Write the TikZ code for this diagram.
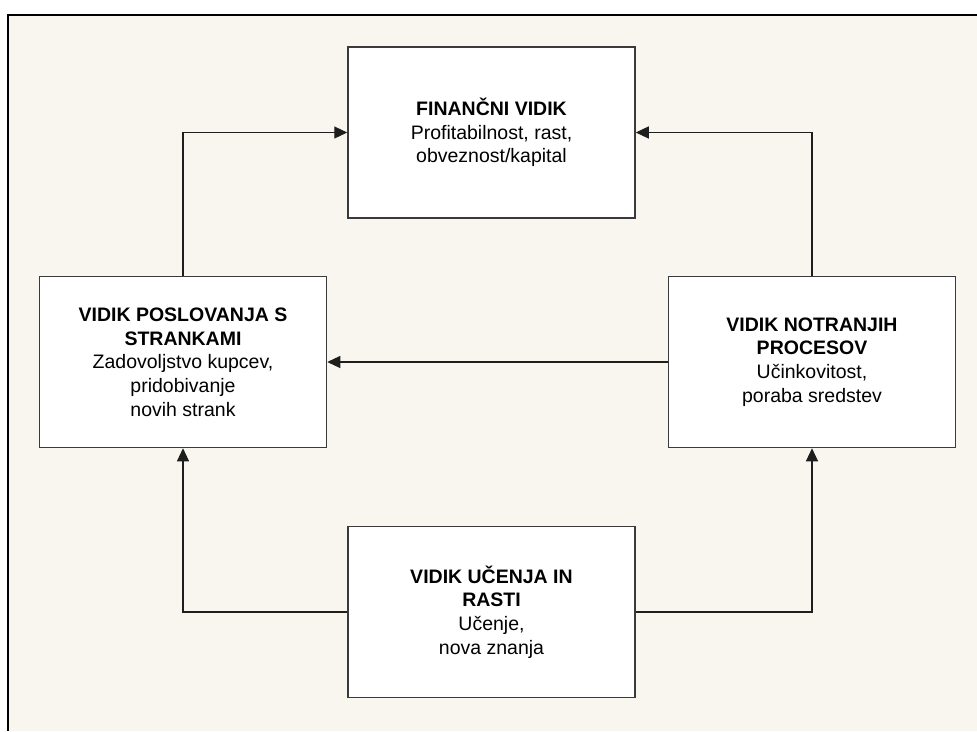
\documentclass[tikz,border=0pt]{standalone}
\usepackage{fontspec}
\setmainfont{Liberation Sans}
\usetikzlibrary{arrows.meta}
\definecolor{paper}{HTML}{F9F6EF}
\definecolor{boxline}{HTML}{3A3A3A}
\definecolor{inkline}{HTML}{1E1E1E}
\tikzset{
  perspective/.style={draw=boxline, line width=1.5pt, fill=white,
    minimum width=287pt, minimum height=171pt, inner sep=0pt,
    align=center, font=\fontsize{19.5}{23.7}\selectfont, text=black},
  link/.style={draw=inkline, line width=1.1pt,
    -{Triangle[length=13pt,width=12pt]}}
}
\begin{document}
\begin{tikzpicture}[x=1pt,y=-1pt]
  \useasboundingbox (0,0) rectangle (977,731);
  % page and frame
  \fill[white] (0,0) rectangle (977,731);
  \fill[paper] (9,15) rectangle (977,731);
  \draw[black, line width=2pt] (8,731) -- (8,14.5) -- (977,14.5);

  % perspectives
  \node[perspective] (F) at (491.5,132.5)
    {\textbf{FINANČNI VIDIK}\\Profitabilnost, rast,\\obveznost/kapital};
  \node[perspective] (L) at (183,362)
    {\textbf{VIDIK POSLOVANJA S}\\\textbf{STRANKAMI}\\Zadovoljstvo kupcev,\\pridobivanje\\novih strank};
  \node[perspective] (R) at (812,362)
    {\textbf{VIDIK NOTRANJIH}\\\textbf{PROCESOV}\\Učinkovitost,\\poraba sredstev};
  \node[perspective] (B) at (491.5,612)
    {\textbf{VIDIK UČENJA IN}\\\textbf{RASTI}\\Učenje,\\nova znanja};

  % cause-and-effect links
  \draw[link] (L.north) |- (F.west);
  \draw[link] (R.north) |- (F.east);
  \draw[link] (R.west) -- (L.east);
  \draw[link] (B.west) -| (L.south);
  \draw[link] (B.east) -| (R.south);
\end{tikzpicture}
\end{document}
